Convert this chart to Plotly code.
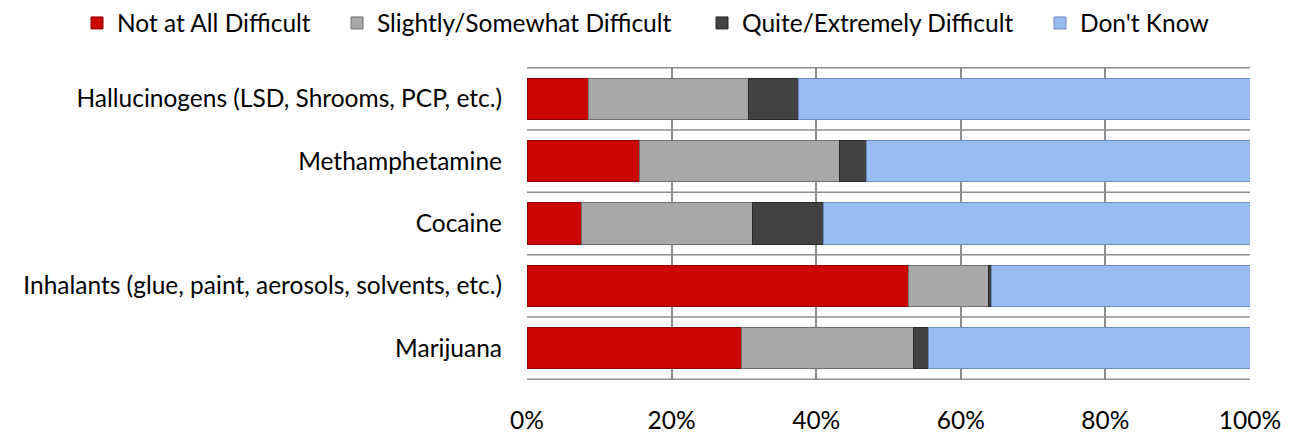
import plotly.graph_objects as go

categories = [
    "Hallucinogens (LSD, Shrooms, PCP, etc.)",
    "Methamphetamine",
    "Cocaine",
    "Inhalants (glue, paint, aerosols, solvents, etc.)",
    "Marijuana",
]
series_names = [
    "Not at All Difficult",
    "Slightly/Somewhat Difficult",
    "Quite/Extremely Difficult",
    "Don't Know",
]
not_difficult = [8.5, 15.5, 7.5, 52.8, 29.6]
somewhat_difficult = [22.2, 27.7, 23.7, 11.0, 23.8]
extremely_difficult = [6.9, 3.7, 9.8, 0.4, 2.2]
dont_know = [62.4, 53.1, 59.0, 35.8, 44.4]
x_tick_vals = [0, 20, 40, 60, 80, 100]
x_tick_text = ["0%", "20%", "40%", "60%", "80%", "100%"]

colors = ["#CC0505", "#A8A8A8", "#424242", "#97BCF0"]
edge_colors = ["#8E0000", "#707070", "#262626", "#6A8BBF"]

FONT = "Lato"
FS = 24.5
W, H = 1283, 428  # page body has an 8px margin
legend_text_left = [109, 369, 734, 1072]

fig = go.Figure()
legend_ids = ["legend", "legend2", "legend3", "legend4"]
for name, vals, c, ec, lid in zip(series_names,
                                  [not_difficult, somewhat_difficult, extremely_difficult, dont_know],
                                  colors, edge_colors, legend_ids):
    fig.add_trace(go.Bar(
        y=categories, x=vals, name=name, orientation="h",
        marker=dict(color=c, line=dict(color=ec, width=1)),
        legend=lid,
        hovertemplate="%{y}<br>" + name + ": %{x:.1f}%<extra></extra>",
    ))

grid_color = "#8C8C8C"
for i in range(len(categories) + 1):
    fig.add_shape(type="line", xref="x", yref="y", x0=0, x1=100,
                  y0=i - 0.5, y1=i - 0.5, line=dict(color=grid_color, width=1.5),
                  layer="below")

legend_common = dict(orientation="h", xanchor="left", xref="container",
                     y=1 - 15 / H, yanchor="middle", yref="container",
                     font=dict(size=FS, family=FONT), bgcolor="rgba(0,0,0,0)")
layout_legends = {}
for lid, tx in zip(legend_ids, legend_text_left):
    layout_legends[lid] = dict(x=(tx - 40) / W, **legend_common)

fig.update_layout(
    barmode="stack",
    bargap=0.34,
    width=W, height=H,
    margin=dict(l=519, r=41, t=59, b=56),
    paper_bgcolor="white", plot_bgcolor="white",
    font=dict(family=FONT, size=FS, color="#000000"),
    showlegend=True,
    xaxis=dict(range=[0, 100], tickvals=x_tick_vals, ticktext=x_tick_text,
               showgrid=True, gridcolor=grid_color, gridwidth=1.5,
               zeroline=False, showline=False, ticks="", ticklabelstandoff=23,
               fixedrange=True, automargin=False),
    yaxis=dict(autorange="reversed", showgrid=False, zeroline=False,
               ticks="", ticklabelstandoff=24, showline=False, automargin=False),
    **layout_legends,
)
fig.write_html("out.html")
